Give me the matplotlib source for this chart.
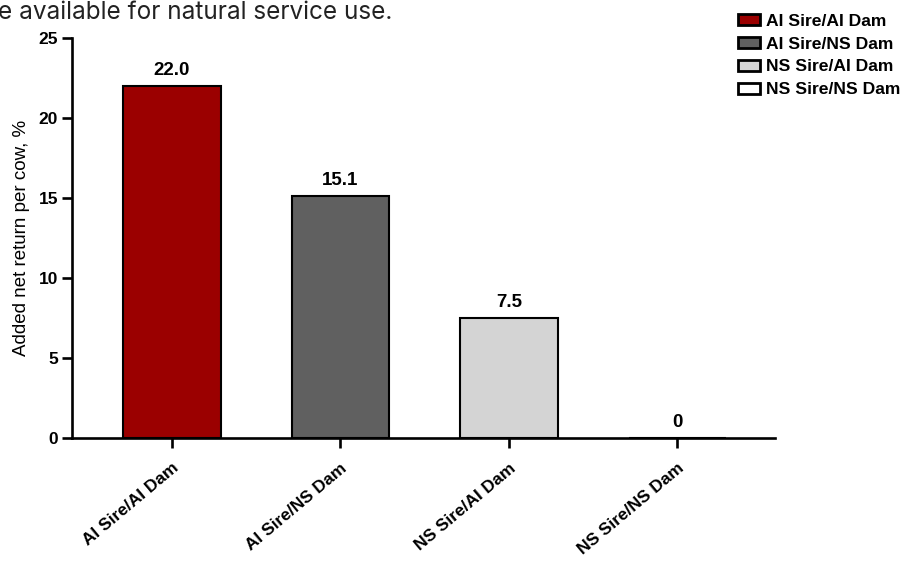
import matplotlib.pyplot as plt
from matplotlib.patches import Patch

# data
groups = ['AI Sire/AI Dam', 'AI Sire/NS Dam', 'NS Sire/AI Dam', 'NS Sire/NS Dam']
values = [22.0, 15.1, 7.5, 0]
labels = ['22.0', '15.1', '7.5', '0']
colors = ['#9b0000', '#606060', '#d4d4d4', '#ffffff']

plt.rcParams['font.family'] = ['Liberation Sans', 'DejaVu Sans']

fig = plt.figure(figsize=(9.09, 5.63), dpi=100)
ax = fig.add_axes([0.0792, 0.222, 0.7734, 0.7105])

x = range(len(groups))
ax.bar(x, values, width=0.58, color=colors, edgecolor='black', linewidth=1.5)

for xi, v, t in zip(x, values, labels):
    ax.text(xi, v + 0.45, t, ha='center', va='bottom', fontsize=13.5, fontweight='bold')

ax.set_xlim(-0.593, 3.579)
ax.set_ylim(0, 25)
ax.set_yticks([0, 5, 10, 15, 20, 25])
ax.set_xticks(list(x))
ax.set_xticklabels(groups, rotation=40, ha='right', va='top', rotation_mode='anchor',
                   fontsize=12.5, fontweight='bold')
for lab in ax.get_yticklabels():
    lab.set_fontweight('bold')
    lab.set_fontsize(12.5)

for s in ['top', 'right']:
    ax.spines[s].set_visible(False)
for s in ['left', 'bottom']:
    ax.spines[s].set_linewidth(1.9)
ax.tick_params(axis='both', length=7, width=1.9)
ax.tick_params(axis='y', pad=3)
ax.tick_params(axis='x', pad=9)
ax.set_ylabel('Added net return per cow, %', fontsize=13.5, labelpad=6)

handles = [Patch(facecolor=c, edgecolor='black', linewidth=2) for c in colors]
fig.legend(handles, groups, loc='upper left', bbox_to_anchor=(0.808, 0.982), frameon=False,
           prop={'weight': 'bold', 'size': 12.6}, handlelength=1.25, handleheight=0.6,
           labelspacing=0.45, handletextpad=0.35, borderaxespad=0.0, borderpad=0.2)

fig.text(-0.002, 1 - 19 / 563, 'e available for natural service use.', fontsize=17.5,
         color='#222222', family=['Inter', 'DejaVu Sans'], va='baseline', ha='left')

fig.savefig('out.png', dpi=100)
